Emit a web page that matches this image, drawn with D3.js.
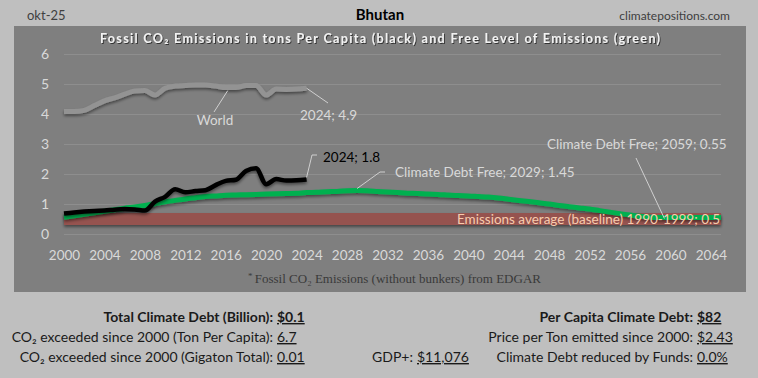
<!DOCTYPE html>
<html>
<head>
<meta charset="utf-8">
<script src="https://cdn.jsdelivr.net/npm/d3@7"></script>
<style>
  body { margin: 0; background: #bfbfbf; }
  svg { display: block; font-family: Lato, "Open Sans", sans-serif; }
</style>
</head>
<body>
<svg id="chart" width="758" height="378"></svg>
<script>
// data
const histYears = [2000,2001,2002,2003,2004,2005,2006,2007,2008,2009,2010,2011,2012,
  2013,2014,2015,2016,2017,2018,2019,2020,2021,2022,2023,2024];
const bhutan = [0.68,0.72,0.75,0.77,0.78,0.81,0.83,0.82,0.78,1.08,1.24,1.49,1.39,
  1.43,1.46,1.63,1.77,1.81,2.10,2.19,1.66,1.83,1.78,1.79,1.82];
const world = [4.08,4.08,4.12,4.28,4.44,4.54,4.66,4.77,4.78,4.63,4.86,4.93,4.95,
  4.97,4.97,4.93,4.88,4.88,4.95,4.95,4.63,4.83,4.82,4.83,4.86];

const freeYears = [2000,2001,2002,2003,2004,2005,2006,2007,2008,2009,2010,2011,2012,
  2013,2014,2015,2016,2017,2018,2019,2020,2021,2022,2023,2024,2025,2026,2027,2028,
  2029,2030,2031,2032,2033,2034,2035,2036,2037,2038,2039,2040,2041,2042,2043,2044,
  2045,2046,2047,2048,2049,2050,2051,2052,2053,2054,2055,2056,2057,2058,2059,2060,
  2061,2062,2063,2064,2065];
const freeLevel = [0.56,0.61,0.66,0.71,0.76,0.81,0.86,0.90,0.95,1.01,1.07,1.12,1.17,
  1.21,1.25,1.27,1.29,1.30,1.31,1.32,1.33,1.34,1.35,1.36,1.38,1.39,1.41,1.42,1.44,
  1.45,1.44,1.42,1.40,1.38,1.36,1.35,1.33,1.32,1.30,1.28,1.27,1.25,1.23,1.20,1.16,
  1.12,1.08,1.04,1.00,0.95,0.91,0.87,0.83,0.78,0.73,0.68,0.63,0.59,0.56,0.55,0.55,
  0.55,0.55,0.55,0.55,0.55];
const baseline = 0.5;
const baselineYears = [2000, 2065];

const xTicks = [2000,2004,2008,2012,2016,2020,2024,2028,2032,2036,2040,2044,2048,
  2052,2056,2060,2064];
const yTicks = [0,1,2,3,4,5,6];

const leftStats = [
  ["Total Climate Debt (Billion):", "$0.1", true],
  ["CO\u2082 exceeded since 2000 (Ton Per Capita):", "6.7", false],
  ["CO\u2082 exceeded since 2000 (Gigaton Total):", "0.01", false]
];
const rightStats = [
  ["Per Capita Climate Debt:", "$82", true],
  ["Price per Ton emitted since 2000:", "$2.43", false],
  ["Climate Debt reduced by Funds:", "0.0%", false]
];

const svg = d3.select("#chart");
const x = d3.scaleLinear().domain([2000, 2065]).range([64, 721]);
const y = d3.scaleLinear().domain([0, 6]).range([234, 54]);

const defs = svg.append("defs");
defs.append("filter").attr("id", "shadow")
  .attr("filterUnits", "userSpaceOnUse")
  .attr("x", 0).attr("y", 0).attr("width", 758).attr("height", 378)
  .append("feDropShadow")
  .attr("dx", 0).attr("dy", 2).attr("stdDeviation", 1.5)
  .attr("flood-color", "#000").attr("flood-opacity", 0.45);
defs.append("filter").attr("id", "tshadow")
  .append("feDropShadow")
  .attr("dx", 1).attr("dy", 1).attr("stdDeviation", 0.6)
  .attr("flood-color", "#000").attr("flood-opacity", 0.6);

// header
svg.append("text").attr("x", 27).attr("y", 20).attr("font-size", 13)
  .attr("fill", "#404040").text("okt-25");
svg.append("text").attr("x", 380).attr("y", 20).attr("font-size", 15)
  .attr("font-weight", "bold").attr("text-anchor", "middle")
  .attr("fill", "#000").text("Bhutan");
svg.append("text").attr("x", 730).attr("y", 20).attr("font-size", 12)
  .attr("text-anchor", "end").attr("fill", "#404040").text("climatepositions.com");

// dark panel
svg.append("rect").attr("x", 14).attr("y", 26).attr("width", 732).attr("height", 266)
  .attr("fill", "#7f7f7f");

svg.append("text").attr("x", 380).attr("y", 43).attr("font-size", 12.5)
  .attr("font-weight", "bold").attr("text-anchor", "middle").attr("fill", "#f2f2f2")
  .attr("textLength", 560).attr("lengthAdjust", "spacing")
  .attr("filter", "url(#tshadow)")
  .text("Fossil CO\u2082 Emissions in tons Per Capita (black) and Free Level of Emissions (green)");

// axes + gridlines
const yAxis = svg.append("g").attr("transform", "translate(64,0)")
  .call(d3.axisLeft(y).tickValues(yTicks).tickSize(-657).tickPadding(15).tickFormat(d3.format("d")));
yAxis.select(".domain").remove();
yAxis.selectAll(".tick line").attr("stroke", "#8e8e8e").attr("stroke-width", 1);
yAxis.selectAll(".tick text").attr("font-size", 14).attr("fill", "#d9d9d9")
  .attr("font-family", "Lato, sans-serif");

const xAxis = svg.append("g").attr("transform", "translate(0,234)")
  .call(d3.axisBottom(x).tickValues(xTicks).tickSize(0).tickPadding(16).tickFormat(d3.format("d")));
xAxis.select(".domain").remove();
xAxis.selectAll(".tick text").attr("font-size", 13.5).attr("fill", "#d9d9d9")
  .attr("font-family", "Lato, sans-serif");

// baseline band
svg.append("path")
  .datum(baselineYears)
  .attr("d", d3.line().x(d => x(d)).y(() => y(baseline)))
  .attr("stroke", "#95524f").attr("stroke-width", 12).attr("fill", "none")
  .attr("filter", "url(#shadow)");

const line = d3.line().x(d => x(d[0])).y(d => y(d[1])).curve(d3.curveMonotoneX);

// free level (green)
svg.append("path")
  .datum(d3.zip(freeYears, freeLevel))
  .attr("d", line)
  .attr("fill", "none").attr("stroke", "#00b050").attr("stroke-width", 5)
  .attr("filter", "url(#shadow)");

// world (grey)
svg.append("path")
  .datum(d3.zip(histYears, world))
  .attr("d", line)
  .attr("fill", "none").attr("stroke", "#939393").attr("stroke-width", 5)
  .attr("filter", "url(#shadow)");

// bhutan (black)
svg.append("path")
  .datum(d3.zip(histYears, bhutan))
  .attr("d", line)
  .attr("fill", "none").attr("stroke", "#000").attr("stroke-width", 4.5)
  .attr("stroke-linejoin", "round")
  .attr("filter", "url(#shadow)");

// labels + leader lines
const lab = (tx, ty, txt, fill, anchor) => svg.append("text")
  .attr("x", tx).attr("y", ty).attr("font-size", 13.5).attr("fill", fill)
  .attr("text-anchor", anchor || "start").text(txt);
const leader = pts => svg.append("path")
  .attr("d", d3.line()(pts)).attr("fill", "none")
  .attr("stroke", "#d0d0d0").attr("stroke-width", 1);

leader([[x(2016.2), y(4.88) + 3], [214, 112]]);
lab(215, 125, "World", "#d9d9d9", "middle");

leader([[x(2024), y(4.86)], [328, 103]]);
lab(300, 120, "2024; 4.9", "#d9d9d9");

leader([[x(2024), y(1.82) - 2], [312, 155], [317, 155]]);
lab(323, 162, "2024; 1.8", "#000");

leader([[x(2029), y(1.45) - 2], [380, 172], [385, 172]]);
lab(395, 177, "Climate Debt Free; 2029; 1.45", "#d9d9d9");

leader([[636, 158], [x(2059.4), y(0.55) + 1]]);
lab(547, 149, "Climate Debt Free; 2059; 0.55", "#d9d9d9");

lab(457, 224, "Emissions average (baseline) 1990-1999; 0.5", "#f8cbad");

// footnote
const foot = svg.append("text").attr("x", 248).attr("y", 283)
  .attr("font-family", "'Liberation Serif', serif").attr("font-size", 13).attr("fill", "#3a3a3a");
foot.append("tspan").attr("font-size", 9).attr("dy", -4).text("* ");
foot.append("tspan").attr("dy", 4).text("Fossil CO\u2082 Emissions (without bunkers) from EDGAR");

// stats
const statsRow = (list, endX) => list.forEach((r, i) => {
  const yy = 322 + i * 20;
  svg.append("text").attr("x", endX).attr("y", yy).attr("text-anchor", "end")
    .attr("font-size", 14).attr("fill", "#1a1a1a")
    .attr("font-weight", r[2] ? "bold" : "normal").text(r[0]);
  svg.append("text").attr("x", endX + 4).attr("y", yy)
    .attr("font-size", 14).attr("fill", "#1a1a1a")
    .attr("font-weight", r[2] ? "bold" : "normal")
    .attr("text-decoration", "underline").text(r[1]);
});
statsRow(leftStats, 273);
statsRow(rightStats, 693);
svg.append("text").attr("x", 413).attr("y", 362).attr("text-anchor", "end")
  .attr("font-size", 14).attr("fill", "#1a1a1a").text("GDP+:");
svg.append("text").attr("x", 417).attr("y", 362)
  .attr("font-size", 14).attr("fill", "#1a1a1a")
  .attr("text-decoration", "underline").text("$11,076");
</script>
</body>
</html>
